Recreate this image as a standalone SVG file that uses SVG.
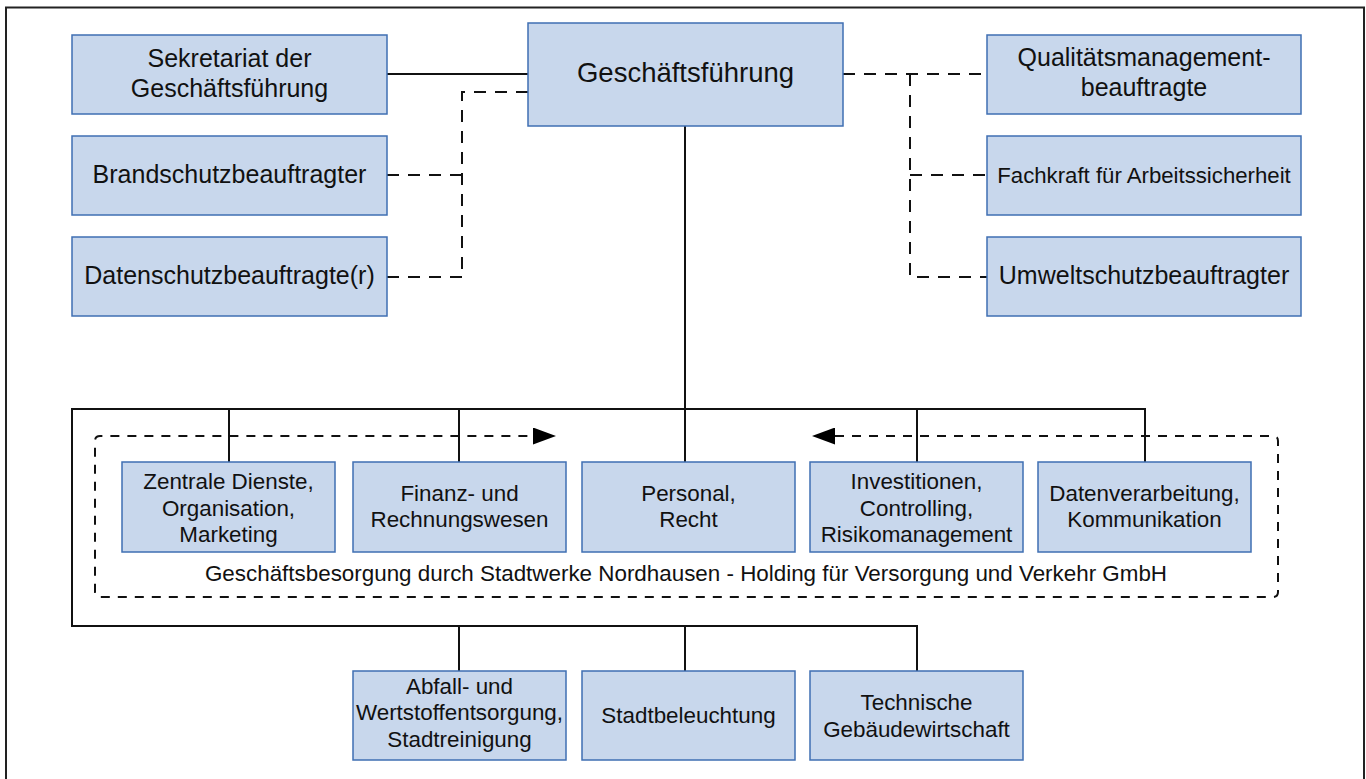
<svg xmlns="http://www.w3.org/2000/svg" width="1366" height="779" viewBox="0 0 1366 779">
<style>
.box{fill:#c8d7ec;stroke:#3f6fb3;stroke-width:1.5}
.t{font-family:"Liberation Sans",Arial,Helvetica,sans-serif;fill:#111;text-anchor:middle}
.big{font-size:25px}
.mid{font-size:22.4px}
.solid{fill:none;stroke:#111;stroke-width:2}
.dash{fill:none;stroke:#111;stroke-width:2;stroke-dasharray:12 9}
.fine{fill:none;stroke:#111;stroke-width:2;stroke-dasharray:9 8}
</style>
<defs>
<marker id="arr" markerUnits="userSpaceOnUse" viewBox="0 0 23 17" refX="0" refY="8.5" markerWidth="23" markerHeight="17" orient="auto-start-reverse">
<path d="M0,0 L23,8.5 L0,17 Z" fill="#000"/>
</marker>
</defs>
<rect x="0" y="0" width="1366" height="779" fill="#fff"/>
<path d="M6,790 L6,7.5 L1364,7.5 L1364,790" fill="none" stroke="#222" stroke-width="2"/>
<g id="connectors">
<line class="solid" x1="387" y1="74" x2="528" y2="74"/>
<line class="solid" x1="685" y1="126" x2="685" y2="409"/>
<path class="solid" d="M1145,462 L1145,409 L72,409 L72,626 L917,626 L917,671"/>
<line class="solid" x1="229" y1="409" x2="229" y2="462"/>
<line class="solid" x1="459" y1="409" x2="459" y2="462"/>
<line class="solid" x1="685" y1="409" x2="685" y2="462"/>
<line class="solid" x1="917" y1="409" x2="917" y2="462"/>
<line class="solid" x1="459" y1="626" x2="459" y2="671"/>
<line class="solid" x1="685" y1="626" x2="685" y2="671"/>
<path class="dash" d="M528,92 L462,92 L462,277"/>
<line class="dash" x1="387" y1="175" x2="462" y2="175"/>
<line class="dash" x1="387" y1="277" x2="462" y2="277"/>
<line class="dash" x1="843" y1="74" x2="987" y2="74"/>
<path class="dash" d="M910,74 L910,277 L987,277"/>
<line class="dash" x1="910" y1="175" x2="987" y2="175"/>
<path class="fine" d="M835,436 L1273,436 Q1278,436 1278,441 L1278,592 Q1278,597 1273,597 L100,597 Q95,597 95,592 L95,441 Q95,436 100,436 L533,436" marker-start="url(#arr)" marker-end="url(#arr)"/>
</g>
<g id="n-gf"><rect class="box" x="528" y="23" width="315" height="103"/><text class="t" x="685.5" y="82" font-size="27.5">Geschäftsführung</text></g>
<g id="n-sek"><rect class="box" x="72" y="35" width="315" height="79"/><text class="t big" x="229.5" y="67">Sekretariat der</text><text class="t big" x="229.5" y="97">Geschäftsführung</text></g>
<g id="n-brand"><rect class="box" x="72" y="136" width="315" height="79"/><text class="t big" x="229.5" y="183">Brandschutzbeauftragter</text></g>
<g id="n-daten"><rect class="box" x="72" y="237" width="315" height="79"/><text class="t big" x="229.5" y="284">Datenschutzbeauftragte(r)</text></g>
<g id="n-qm"><rect class="box" x="987" y="35" width="314" height="79"/><text class="t big" x="1144" y="66">Qualitätsmanagement-</text><text class="t big" x="1144" y="96">beauftragte</text></g>
<g id="n-fachkraft"><rect class="box" x="987" y="136" width="314" height="79"/><text class="t" x="1144" y="183" font-size="22.2">Fachkraft für Arbeitssicherheit</text></g>
<g id="n-umwelt"><rect class="box" x="987" y="237" width="314" height="79"/><text class="t big" x="1144" y="284">Umweltschutzbeauftragter</text></g>
<g id="n-zentral"><rect class="box" x="122" y="462" width="213" height="90"/><text class="t mid" x="228.5" y="489">Zentrale Dienste,</text><text class="t mid" x="228.5" y="516">Organisation,</text><text class="t mid" x="228.5" y="542">Marketing</text></g>
<g id="n-finanz"><rect class="box" x="353" y="462" width="213" height="90"/><text class="t mid" x="459.5" y="501">Finanz- und</text><text class="t mid" x="459.5" y="527">Rechnungswesen</text></g>
<g id="n-personal"><rect class="box" x="582" y="462" width="213" height="90"/><text class="t mid" x="688.5" y="501">Personal,</text><text class="t mid" x="688.5" y="527">Recht</text></g>
<g id="n-invest"><rect class="box" x="810" y="462" width="213" height="90"/><text class="t mid" x="916.5" y="489">Investitionen,</text><text class="t mid" x="916.5" y="516">Controlling,</text><text class="t mid" x="916.5" y="542">Risikomanagement</text></g>
<g id="n-dv"><rect class="box" x="1038" y="462" width="213" height="90"/><text class="t mid" x="1144.5" y="501">Datenverarbeitung,</text><text class="t mid" x="1144.5" y="527">Kommunikation</text></g>
<g id="n-holding"><text class="t mid" x="686" y="581">Geschäftsbesorgung durch Stadtwerke Nordhausen - Holding für Versorgung und Verkehr GmbH</text></g>
<g id="n-abfall"><rect class="box" x="353" y="671" width="213" height="89"/><text class="t mid" x="459.5" y="694">Abfall- und</text><text class="t mid" x="459.5" y="720">Wertstoffentsorgung,</text><text class="t mid" x="459.5" y="747">Stadtreinigung</text></g>
<g id="n-licht"><rect class="box" x="582" y="671" width="213" height="89"/><text class="t mid" x="688.5" y="723">Stadtbeleuchtung</text></g>
<g id="n-tgw"><rect class="box" x="810" y="671" width="213" height="89"/><text class="t mid" x="916.5" y="710">Technische</text><text class="t mid" x="916.5" y="737">Gebäudewirtschaft</text></g>
</svg>
